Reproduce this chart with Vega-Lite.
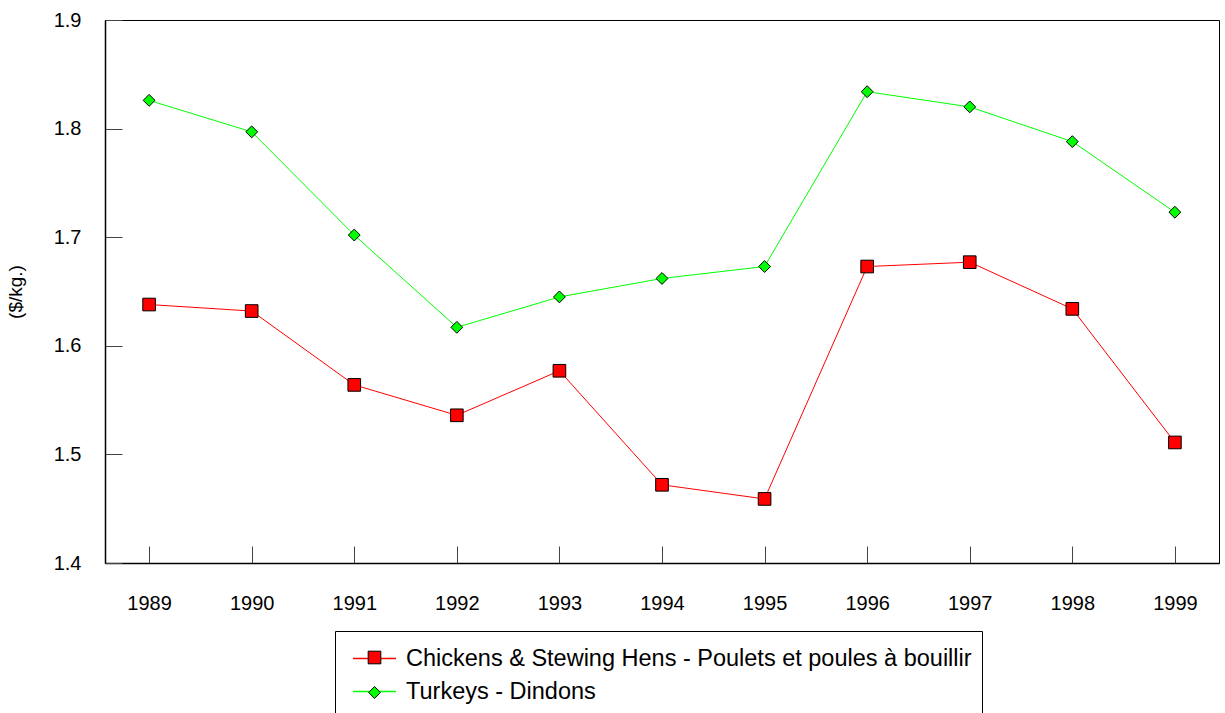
{
  "$schema": "https://vega.github.io/schema/vega-lite/v6.json",
  "width": 1114,
  "height": 543,
  "autosize": "none",
  "padding": {"left": 105, "top": 20, "right": 6, "bottom": 150},
  "background": "white",
  "config": {
    "font": "Liberation Sans",
    "view": {"stroke": "black", "strokeWidth": 1},
    "axis": {"grid": false, "labelFont": "Liberation Sans", "titleFont": "Liberation Sans", "labelColor": "black", "titleColor": "black", "domainColor": "black", "tickColor": "#444"}
  },
  "data": {
    "values": [
      {"year": "1989", "series": "Chickens & Stewing Hens - Poulets et poules à bouillir", "price": 1.638},
      {"year": "1990", "series": "Chickens & Stewing Hens - Poulets et poules à bouillir", "price": 1.632},
      {"year": "1991", "series": "Chickens & Stewing Hens - Poulets et poules à bouillir", "price": 1.564},
      {"year": "1992", "series": "Chickens & Stewing Hens - Poulets et poules à bouillir", "price": 1.536},
      {"year": "1993", "series": "Chickens & Stewing Hens - Poulets et poules à bouillir", "price": 1.577},
      {"year": "1994", "series": "Chickens & Stewing Hens - Poulets et poules à bouillir", "price": 1.472},
      {"year": "1995", "series": "Chickens & Stewing Hens - Poulets et poules à bouillir", "price": 1.459},
      {"year": "1996", "series": "Chickens & Stewing Hens - Poulets et poules à bouillir", "price": 1.673},
      {"year": "1997", "series": "Chickens & Stewing Hens - Poulets et poules à bouillir", "price": 1.677},
      {"year": "1998", "series": "Chickens & Stewing Hens - Poulets et poules à bouillir", "price": 1.634},
      {"year": "1999", "series": "Chickens & Stewing Hens - Poulets et poules à bouillir", "price": 1.511},
      {"year": "1989", "series": "Turkeys - Dindons", "price": 1.826},
      {"year": "1990", "series": "Turkeys - Dindons", "price": 1.797},
      {"year": "1991", "series": "Turkeys - Dindons", "price": 1.702},
      {"year": "1992", "series": "Turkeys - Dindons", "price": 1.617},
      {"year": "1993", "series": "Turkeys - Dindons", "price": 1.645},
      {"year": "1994", "series": "Turkeys - Dindons", "price": 1.662},
      {"year": "1995", "series": "Turkeys - Dindons", "price": 1.673},
      {"year": "1996", "series": "Turkeys - Dindons", "price": 1.834},
      {"year": "1997", "series": "Turkeys - Dindons", "price": 1.820},
      {"year": "1998", "series": "Turkeys - Dindons", "price": 1.788},
      {"year": "1999", "series": "Turkeys - Dindons", "price": 1.723}
    ]
  },
  "encoding": {
    "x": {
      "field": "year", "type": "ordinal",
      "scale": {"type": "point", "padding": 0.43},
      "axis": {"title": null, "labelAngle": 0, "labelFontSize": 20, "tickSize": -17, "labelPadding": 47, "domainWidth": 1.5}
    },
    "y": {
      "field": "price", "type": "quantitative",
      "scale": {"domain": [1.4, 1.9], "nice": false, "zero": false},
      "axis": {"title": "($/kg.)", "values": [1.4, 1.5, 1.6, 1.7, 1.8, 1.9], "format": ".1f", "labelFontSize": 20, "titleFontSize": 19, "titleFontWeight": "normal", "tickSize": -17, "labelPadding": 41, "titlePadding": 28, "domainWidth": 1.5}
    }
  },
  "layer": [
    {
      "mark": {"type": "line", "strokeWidth": 1},
      "encoding": {
        "stroke": {
          "field": "series", "type": "nominal",
          "scale": {"range": ["#ff0000", "#00ff00"]},
          "legend": {
            "orient": "none", "legendX": 230, "legendY": 611,
            "title": null, "direction": "vertical",
            "symbolType": "M-1.3,0H1.3", "symbolSize": 1089, "symbolStrokeWidth": 1.5,
            "symbolOffset": 12,
            "labelFontSize": 23.5, "labelFont": "Liberation Sans", "labelColor": "black", "labelOffset": 14, "labelLimit": 900,
            "padding": 10, "rowPadding": 4,
            "strokeColor": "black", "fillColor": "white"
          }
        }
      }
    },
    {
      "mark": {"type": "point", "filled": true, "stroke": "black", "strokeWidth": 1, "opacity": 1},
      "encoding": {
        "fill": {
          "field": "series", "type": "nominal",
          "scale": {"range": ["#ff0000", "#00ff00"]},
          "legend": {
            "orient": "none", "legendX": 230, "legendY": 616,
            "title": null, "direction": "vertical",
            "symbolOffset": 18, "symbolStrokeColor": "black", "symbolStrokeWidth": 1, "symbolOpacity": 1,
            "labelFontSize": 23, "labelExpr": "''", "labelLimit": 900,
            "padding": 10, "rowPadding": 11
          }
        },
        "shape": {
          "field": "series", "type": "nominal",
          "scale": {"range": ["square", "diamond"]}
        },
        "size": {
          "field": "series", "type": "nominal",
          "scale": {"range": [160, 140]}
        }
      }
    }
  ]
}
